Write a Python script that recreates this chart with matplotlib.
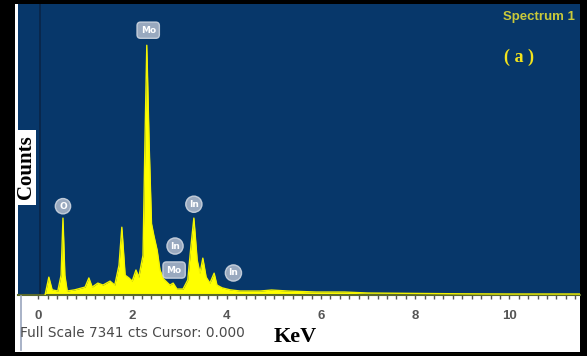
import matplotlib
matplotlib.use("Agg")
import matplotlib.pyplot as plt
from matplotlib.patches import Rectangle
from matplotlib.lines import Line2D

# EDS spectrum, counts vs energy (keV), vertices
energy = [0.14, 0.22, 0.29, 0.41, 0.48, 0.52, 0.56, 0.61, 0.77, 0.99, 1.07, 1.14,
          1.26, 1.37, 1.52, 1.62, 1.71, 1.77, 1.84, 1.92, 1.99, 2.07, 2.13, 2.22,
          2.26, 2.30, 2.35, 2.40, 2.45, 2.52, 2.58, 2.66, 2.79, 2.86, 2.94, 3.07,
          3.17, 3.24, 3.30, 3.37, 3.43, 3.49, 3.56, 3.64, 3.73, 3.79, 3.90, 4.07,
          4.28, 4.71, 4.95, 5.3, 5.9, 6.5, 7.0, 8.0, 9.0, 10.0, 11.5]
counts = [0, 450, 130, 100, 500, 1940, 500, 100, 130, 200, 430, 200,
          300, 250, 350, 250, 750, 1710, 500, 430, 350, 630, 450, 1000,
          3800, 6300, 3800, 1800, 1500, 1130, 630, 400, 250, 300, 150, 150,
          380, 1260, 1940, 880, 550, 930, 450, 300, 550, 250, 180, 130,
          100, 100, 125, 100, 75, 75, 50, 40, 30, 25, 25]

# element markers: name, energy, height of bubble
tag_names = ["Mo", "O", "In", "In", "Mo", "In"]
tag_keV = [2.33, 0.52, 3.30, 2.90, 2.88, 4.14]
tag_cts = [6680, 2240, 2290, 1235, 630, 555]
full_scale = 7341

W, H = 587, 356
fig = plt.figure(figsize=(W / 100, H / 100), dpi=100, facecolor="black")
fig.patches.append(Rectangle((15 / W, 4 / H), (580 - 15) / W, (352 - 4) / H,
                             transform=fig.transFigure, facecolor="white",
                             edgecolor="none", zorder=-5))
fig.lines.append(Line2D([20.5 / W, 20.5 / W], [1 - 350 / H, 1 - 296 / H],
                        transform=fig.transFigure, color="#9aa6bd", lw=1.2))

ax = fig.add_axes([18 / W, (H - 295) / H, (580 - 18) / W, (295 - 4) / H])
ax.set_zorder(1)
navy = "#07376a"
ax.set_facecolor(navy)
ax.set_xlim(-0.435, 11.5)
ax.set_ylim(0, full_scale)

ax.fill_between(energy, counts, 0, color="#ffff00", lw=0, zorder=2)
ax.plot(energy, counts, color="#f4f400", lw=1.0, zorder=3)
ax.axvline(0.03, color="#0a2446", lw=1.2, zorder=1)

for name, e, c in zip(tag_names, tag_keV, tag_cts):
    style = "round,pad=0.4" if name == "Mo" else "circle,pad=0.35"
    ax.text(e, c, name, ha="center", va="center", fontsize=6.5, color="white",
            zorder=5, fontweight="bold",
            bbox=dict(boxstyle=style, fc="#aab6c9", ec="#cdd5e0", lw=1.0, alpha=0.9))

ax.text(0.99, 0.955, "Spectrum 1", transform=ax.transAxes, ha="right", va="center",
        fontsize=9.5, color="#c9c93a", family="Liberation Sans", fontweight="bold")
ax.text(0.891, 0.818, "( a )", transform=ax.transAxes, ha="center", va="center",
        fontsize=13, color="#f2e31c", fontweight="bold", family="Liberation Serif")

for s in ["top", "right", "left"]:
    ax.spines[s].set_visible(False)
ax.spines["bottom"].set_color("#5b6a2c")
ax.spines["bottom"].set_linewidth(1.5)

ax.set_yticks([])
ax.set_xticks(range(0, 11, 2))
ax.set_xticks([i * 0.2 for i in range(0, 58)], minor=True)
ax.tick_params(axis="x", which="both", direction="out", colors="#555555",
               length=3, width=1, labelsize=9.5, pad=8)
for lab in ax.get_xticklabels():
    lab.set_fontweight("bold")
    lab.set_family("Liberation Sans")

fig.text(20 / W, 1 - 333 / H, "Full Scale %d cts Cursor: 0.000" % full_scale,
         ha="left", va="center", fontsize=9.8, color="#4a4a4a", family="DejaVu Sans")
fig.text(295 / W, 1 - 337 / H, "KeV", ha="center", va="center", fontsize=16,
         fontweight="bold", family="Liberation Serif", color="black")
fig.patches.append(Rectangle((15 / W, 1 - 205 / H), 21 / W, 75 / H,
                             transform=fig.transFigure, facecolor="white",
                             edgecolor="none", zorder=3))
fig.text(26.5 / W, 1 - 167.5 / H, "Counts", rotation=90, ha="center", va="center",
         fontsize=15, fontweight="bold", family="Liberation Serif", zorder=4)

fig.savefig("out.png", dpi=100, facecolor="black")
